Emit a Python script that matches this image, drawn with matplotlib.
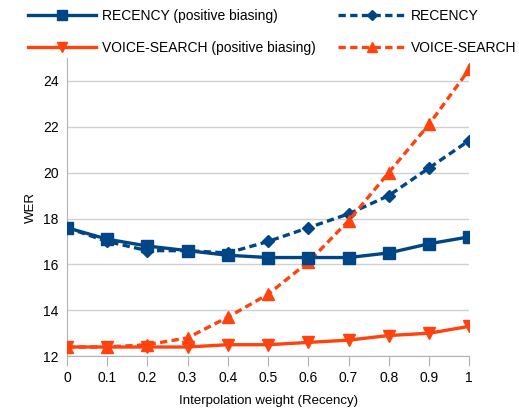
import matplotlib.pyplot as plt
from matplotlib.lines import Line2D

plt.rcParams["font.family"] = ["Liberation Sans", "DejaVu Sans"]

weights = [0, 0.1, 0.2, 0.3, 0.4, 0.5, 0.6, 0.7, 0.8, 0.9, 1]
x_labels = ["0", "0.1", "0.2", "0.3", "0.4", "0.5", "0.6", "0.7", "0.8", "0.9", "1"]
recency_pos = [17.6, 17.1, 16.8, 16.6, 16.4, 16.3, 16.3, 16.3, 16.5, 16.9, 17.2]
recency = [17.6, 17.0, 16.6, 16.6, 16.5, 17.0, 17.6, 18.2, 19.0, 20.2, 21.4]
voice_pos = [12.4, 12.4, 12.4, 12.4, 12.5, 12.5, 12.6, 12.7, 12.9, 13.0, 13.3]
voice = [12.4, 12.4, 12.5, 12.8, 13.7, 14.7, 16.1, 17.9, 20.0, 22.1, 24.5]

BLUE = "#004586"
ORANGE = "#ff420e"
DASH = (0, (2.2, 1.3))

fig = plt.figure(figsize=(5.19, 4.08), dpi=100)
ax = fig.add_axes([0.129, 0.127, 0.775, 0.731])

ax.plot(weights, recency_pos, color=BLUE, lw=2.4, marker="s", ms=8, zorder=4)
ax.plot(weights, recency, color=BLUE, lw=2.4, ls=DASH, marker="D", ms=6, zorder=3)
ax.plot(weights, voice_pos, color=ORANGE, lw=2.4, marker="v", ms=8, zorder=4)
ax.plot(weights, voice, color=ORANGE, lw=2.4, ls=DASH, marker="^", ms=8, zorder=3)

ax.set_xlim(0, 1)
ax.set_ylim(12, 25)
ax.set_xticks(weights)
ax.set_xticklabels(x_labels)
ax.set_yticks(range(12, 25, 2))
ax.yaxis.grid(True, color="#d0d0d0", lw=1)
ax.set_axisbelow(True)
for s in ("top", "right"):
    ax.spines[s].set_visible(False)
for s in ("left", "bottom"):
    ax.spines[s].set_color("#b3b3b3")
ax.tick_params(axis="x", direction="out", length=7, color="#b3b3b3", labelsize=10, pad=4)
ax.tick_params(axis="y", length=0, labelsize=10, pad=6)
ax.set_xlabel("Interpolation weight (Recency)", fontsize=9.5, labelpad=7)
ax.set_ylabel("WER", fontsize=9.5)

# column-major order so rows read: RECENCY pair, then VOICE-SEARCH pair
handles = [
    Line2D([], [], color=BLUE, lw=2.4, marker="s", ms=7),
    Line2D([], [], color=ORANGE, lw=2.4, marker="v", ms=7),
    Line2D([], [], color=BLUE, lw=2.4, ls=DASH, marker="D", ms=5),
    Line2D([], [], color=ORANGE, lw=2.4, ls=DASH, marker="^", ms=7),
]
labels = ["RECENCY (positive biasing)", "VOICE-SEARCH (positive biasing)",
          "RECENCY", "VOICE-SEARCH"]
fig.legend(handles, labels, ncol=2, loc="upper left", bbox_to_anchor=(0.03, 1.009),
           frameon=False, fontsize=10, handlelength=4.9, handletextpad=0.4,
           columnspacing=1.6, labelspacing=1.3)

fig.savefig("out.png", dpi=100)
